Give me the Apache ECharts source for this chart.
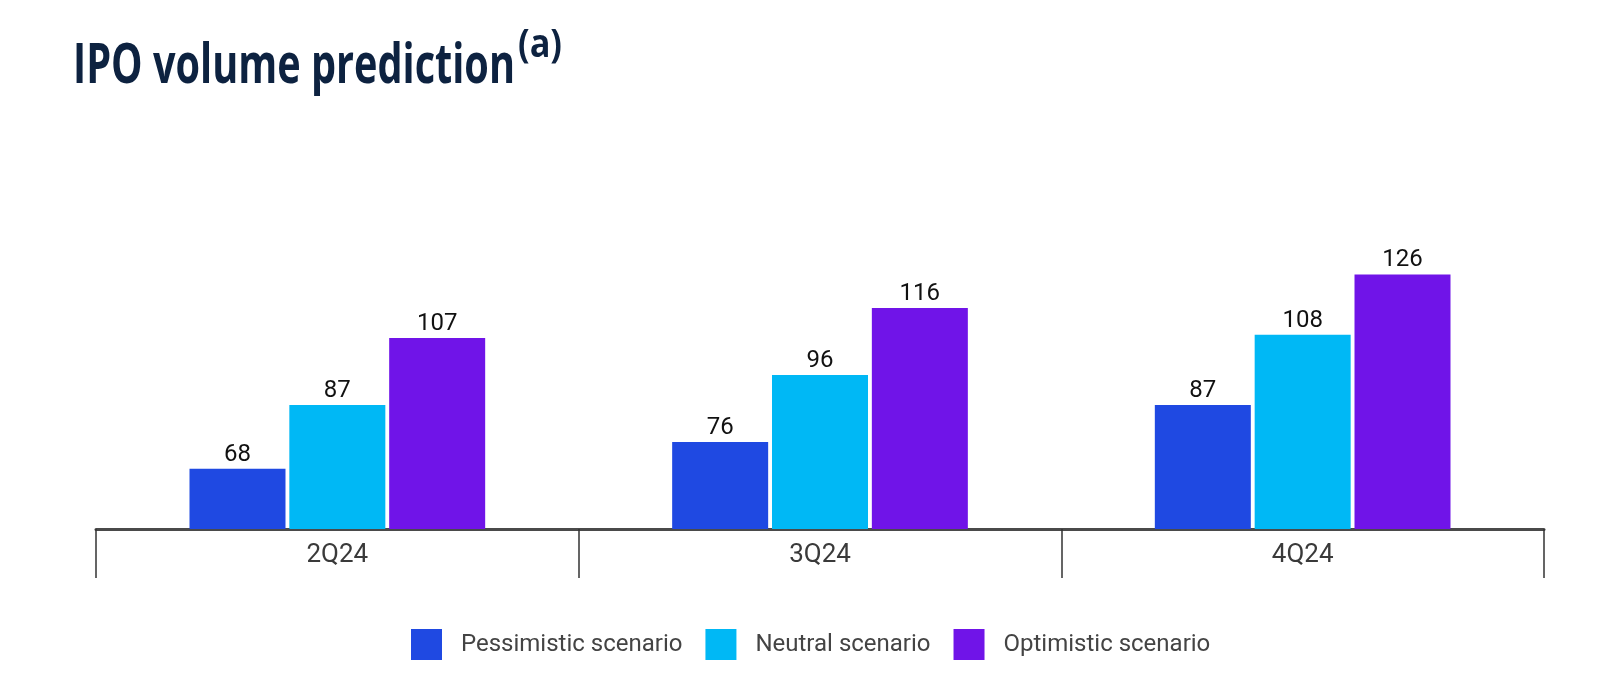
<!DOCTYPE html>
<html>
<head>
<meta charset="utf-8">
<script src="https://cdn.jsdelivr.net/npm/echarts@6/dist/echarts.min.js"></script>
<style>
html,body{margin:0;padding:0;background:#fff;}
#c{width:1600px;height:675px;}
</style>
</head>
<body>
<div id="c"></div>
<script>
const categories = ['2Q24', '3Q24', '4Q24'];
const seriesNames = ['Pessimistic scenario', 'Neutral scenario', 'Optimistic scenario'];
const pessimistic = [68, 76, 87];
const neutral = [87, 96, 108];
const optimistic = [107, 116, 126];
const colors = ['#1F49E2', '#00B8F5', '#7014E8'];
const titleText = 'IPO volume prediction';
const titleNote = '(a)';

const titleFont = 'bold 56px "Open Sans", "DejaVu Sans", sans-serif';
const noteFont = 'bold 40px "Open Sans", "DejaVu Sans", sans-serif';
const cv = document.createElement('canvas').getContext('2d');
cv.font = titleFont;
const sx = 442 / cv.measureText(titleText).width;
cv.font = noteFont;
const nsx = 44 / cv.measureText(titleNote).width;

const chart = echarts.init(document.getElementById('c'));
const labelStyle = {
  show: true, position: 'top', distance: 2,
  color: '#111', fontSize: 24, fontFamily: 'Roboto'
};
const values = [pessimistic, neutral, optimistic];
chart.setOption({
  animation: false,
  backgroundColor: '#fff',
  graphic: [
    { type: 'text', x: 73, y: 39.5, scaleX: sx, scaleY: 1,
      style: { text: titleText, font: titleFont, fill: '#0D2240', verticalAlign: 'top' } },
    { type: 'text', x: 518, y: 26, scaleX: nsx, scaleY: 1,
      style: { text: titleNote, font: noteFont, fill: '#0D2240', verticalAlign: 'top' } }
  ],
  legend: {
    bottom: 10, left: 406,
    itemWidth: 31, itemHeight: 31, itemGap: 23,
    icon: 'rect',
    textStyle: { fontFamily: 'Roboto', fontSize: 24, color: '#444', padding: [0, 0, 0, 14] },
    data: seriesNames
  },
  grid: { left: 96, right: 56, top: 93.5, bottom: 146 },
  xAxis: {
    type: 'category', data: categories, boundaryGap: true,
    axisLine: { lineStyle: { color: '#4A4A4A', width: 3 } },
    axisTick: { show: true, length: 49, lineStyle: { color: '#333', width: 1.5 } },
    axisLabel: { color: '#3A3A3A', fontSize: 26, fontFamily: 'Roboto', margin: 13 }
  },
  yAxis: { type: 'value', min: 50, max: 180, show: false, splitLine: { show: false } },
  series: seriesNames.map((n, i) => ({
    name: n, type: 'bar', data: values[i],
    barWidth: 96, barGap: '4%',
    itemStyle: { color: colors[i] },
    label: labelStyle
  }))
});
</script>
</body>
</html>
